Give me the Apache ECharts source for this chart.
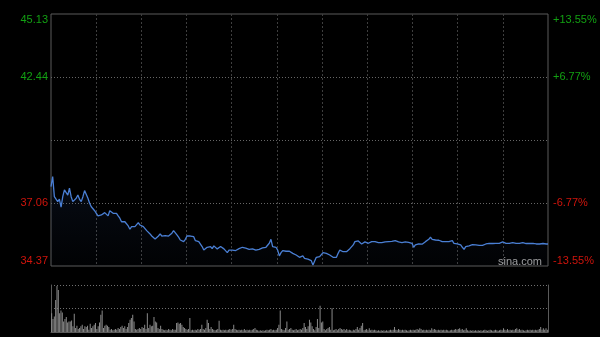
<!DOCTYPE html>
<html>
<head>
<meta charset="utf-8">
<script src="https://cdn.jsdelivr.net/npm/echarts@6/dist/echarts.min.js"></script>
<style>
html,body{margin:0;padding:0;background:#000;}
#chart{width:600px;height:337px;}
</style>
</head>
<body>
<div id="chart"></div>
<script>
// Price tick values and labels
const priceTicks = [34.37, 37.06, 39.75, 42.44, 45.13];
const leftTickLabels = ['34.37', '37.06', '', '42.44', '45.13'];
const rightTickLabels = ['-13.55%', '-6.77%', '', '+6.77%', '+13.55%'];
const priceMin = 34.37, priceMax = 45.13;

// Intraday price samples (left to right)
const prices = [
37.76,38.19,37.33,37.26,37.12,37.22,36.88,37.33,37.62,37.55,37.40,37.69,37.33,37.12,37.05,37.26,37.40,37.22,37.12,37.33,37.59,37.55,37.26,37.05,36.90,36.83,36.73,36.62,36.51,36.55,36.55,36.51,36.65,36.62,36.51,36.73,36.65,36.62,36.69,36.62,36.51,36.41,36.26,36.19,36.26,36.19,36.08,35.94,36.05,35.98,36.05,36.12,36.22,36.12,36.08,36.05,35.98,35.88,35.84,35.74,35.65,35.60,35.52,35.55,35.65,35.74,35.65,35.62,35.67,35.65,35.65,35.62,35.77,35.88,
35.91,35.70,35.60,35.48,35.41,35.41,35.51,35.65,35.65,35.65,35.67,35.62,35.45,35.37,35.41,35.45,35.20,35.05,35.13,35.17,35.15,35.20,35.11,35.23,35.17,35.10,35.17,35.20,35.13,35.10,35.05,34.94,35.05,35.08,35.05,35.05,35.03,35.08,35.11,35.14,35.17,35.20,35.13,35.05,35.08,35.03,35.10,35.10,35.05,35.11,35.08,35.05,35.14,35.11,35.17,35.17,35.34,35.51,35.20,35.17,35.17,35.05,34.80,34.94,35.03,35.00,35.00,34.97,35.00,34.94,34.91,34.84,
34.84,34.80,34.74,34.70,34.80,34.70,34.63,34.66,34.70,34.60,34.41,34.49,34.74,34.74,34.77,34.84,34.94,34.88,34.91,34.88,34.84,34.80,34.74,34.70,34.74,34.91,35.05,34.98,34.98,34.94,34.98,35.05,35.11,35.17,35.27,35.41,35.48,35.44,35.37,35.31,35.25,35.40,35.37,35.34,35.41,35.41,35.44,35.41,35.40,35.37,35.31,35.37,35.40,35.40,35.40,35.41,35.41,35.42,35.48,35.45,35.41,35.40,35.40,35.37,35.37,35.40,35.37,35.38,35.40,35.34,35.17,35.27,35.31,35.31,35.27,35.30,
35.31,35.41,35.48,35.51,35.60,35.51,35.48,35.48,35.48,35.47,35.45,35.41,35.41,35.41,35.41,35.41,35.42,35.45,35.34,35.31,35.31,35.31,35.27,35.17,35.08,35.20,35.27,35.23,35.25,35.28,35.20,35.27,35.25,35.25,35.25,35.25,35.27,35.31,35.34,35.34,35.33,35.33,35.31,35.34,35.35,35.34,35.37,35.40,35.37,35.34,35.38,35.34,35.35,35.37,35.40,35.34,35.37,35.34,35.34,35.37,35.34,35.33,35.34,35.33,35.35,35.34,35.33,35.31,35.33,35.31,35.30,35.33,35.31,35.31,35.31
];

// Volume samples (left to right)
const volumes = [
57,39,47,97,139,127,57,65,59,32,39,45,29,32,32,35,17,55,12,19,9,12,17,22,9,17,15,19,7,25,12,17,22,27,9,17,29,52,65,12,19,22,19,15,7,9,5,7,9,7,12,9,15,19,12,17,9,15,27,37,42,52,32,9,7,9,12,9,15,12,22,9,57,12,22,17,19,45,32,29,12,9,19,9,7,5,7,5,9,7,5,9,7,7,27,29,25,27,22,15,12,9,7,9,42,5,7,5,7,5,9,7,9,22,9,7,12,37,27,9,15,9,7,5,7,9,34,7,5,7,5,7,5,7,9,7,9,22,9,7,5,7,5,7,5,9,5,7,5,7,5,7,9,12,7,5,4,5,4,5,4,5,7,5,7,9,5,7,5,7,12,22,65,9,7,5,12,32,7,9,12,7,5,7,9,5,7,9,
7,12,27,15,9,17,37,29,17,9,5,15,39,12,79,29,32,9,5,9,12,15,7,72,5,7,9,5,9,12,9,7,9,5,9,5,7,5,4,7,5,9,15,7,12,19,27,5,7,9,5,11,5,7,5,7,5,4,5,4,5,4,5,4,5,4,5,7,5,7,15,7,5,9,7,5,7,5,7,5,4,5,7,5,7,5,7,9,7,11,9,5,7,5,7,5,7,5,11,7,9,7,5,7,5,7,5,7,5,7,5,4,5,7,5,7,9,7,9,11,7,9,5,7,11,5,4,5,4,5,4,5,4,5,4,5,4,5,7,5,4,5,7,5,4,5,7,5,4,5,7,5,11,7,5,9,5,7,5,7,5,9,11,7,9,5,7,5,4,5,7,5,7,5,7,5,7,5,7,9,15,7,11,7,11,7
];
const volumeMax = 142;

const priceCats = prices.map((_, i) => String(i));
const volumeCats = volumes.map((_, i) => String(i));

const GREEN = '#12a012';
const RED = '#d0140c';
const labelColor = (v) => (v > 39.75 ? GREEN : RED);

const chart = echarts.init(document.getElementById('chart'), null, {renderer: 'canvas'});
chart.setOption({
  backgroundColor: '#000',
  animation: false,
  grid: [
    {left: 51, right: 52, top: 14, bottom: 71, show: true, borderColor: '#5a5a5a', borderWidth: 1, backgroundColor: 'transparent'},
    {left: 51, right: 52, top: 285, bottom: 5, show: false}
  ],
  xAxis: [
    {type: 'category', gridIndex: 0, data: priceCats, boundaryGap: false, show: false},
    {type: 'value', gridIndex: 0, min: 0, max: 330, interval: 30,
      axisLine: {show: false}, axisTick: {show: false}, axisLabel: {show: false},
      splitLine: {show: true, showMinLine: false, showMaxLine: false, lineStyle: {color: '#3e3e3e', type: [2, 2], width: 1}}},
    {type: 'category', gridIndex: 1, data: volumeCats, boundaryGap: true,
      axisLine: {show: true, lineStyle: {color: '#5a5a5a'}}, axisTick: {show: false}, axisLabel: {show: false}, splitLine: {show: false}}
  ],
  yAxis: [
    {type: 'value', gridIndex: 0, min: priceMin, max: priceMax, position: 'left',
      axisLine: {show: false}, axisTick: {show: false, customValues: priceTicks},
      splitLine: {show: true, showMinLine: false, showMaxLine: false, lineStyle: {color: '#666', type: [1, 2], width: 1}},
      axisLabel: {
        show: true, customValues: [34.37, 37.06, 42.44, 45.13], margin: 3,
        fontSize: 11, fontFamily: 'Liberation Sans, Arial, sans-serif',
        verticalAlignMinLabel: 'bottom', verticalAlignMaxLabel: 'top',
        formatter: (v) => leftTickLabels[priceTicks.indexOf(+v.toFixed(2))] || '',
        color: (v) => labelColor(+v)
      }},
    {type: 'value', gridIndex: 0, min: priceMin, max: priceMax, position: 'right',
      axisLine: {show: false}, axisTick: {show: false, customValues: priceTicks},
      splitLine: {show: false},
      axisLabel: {
        show: true, customValues: [34.37, 37.06, 42.44, 45.13], margin: 5,
        fontSize: 11, fontFamily: 'Liberation Sans, Arial, sans-serif',
        verticalAlignMinLabel: 'bottom', verticalAlignMaxLabel: 'top',
        formatter: (v) => rightTickLabels[priceTicks.indexOf(+v.toFixed(2))] || '',
        color: (v) => labelColor(+v)
      }},
    {type: 'value', gridIndex: 1, min: 0, max: volumeMax, interval: 71, position: 'left',
      axisLine: {show: true, lineStyle: {color: '#5a5a5a'}}, axisTick: {show: false}, axisLabel: {show: false},
      splitLine: {show: true, showMinLine: false, lineStyle: {color: '#707070', type: [1, 2], width: 1}}},
    {type: 'value', gridIndex: 1, min: 0, max: volumeMax, interval: 71, position: 'right',
      axisLine: {show: true, lineStyle: {color: '#5a5a5a'}}, axisTick: {show: false}, axisLabel: {show: false},
      splitLine: {show: false}}
  ],
  series: [
    {type: 'line', xAxisIndex: 0, yAxisIndex: 0, data: prices, symbol: 'none', smooth: false,
      lineStyle: {color: '#4a7fd4', width: 1.3},
      areaStyle: {color: new echarts.graphic.LinearGradient(0, 0, 0, 1, [
        {offset: 0, color: 'rgba(45,75,135,0.22)'},
        {offset: 1, color: 'rgba(45,75,135,0.04)'}
      ])}},
    {type: 'bar', xAxisIndex: 2, yAxisIndex: 2, data: volumes, barWidth: 1,
      itemStyle: {color: '#8a8a8a'}}
  ],
  graphic: [
    {type: 'text', left: 498, top: 256, style: {text: 'sina.com', fill: '#a0a0a0', fontSize: 11, fontFamily: 'Liberation Sans, Arial, sans-serif'}}
  ]
});
</script>
</body>
</html>
